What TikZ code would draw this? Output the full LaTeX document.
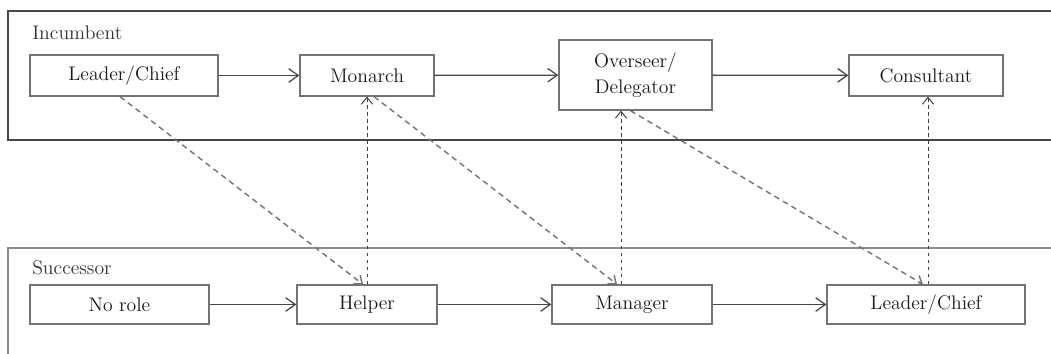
\documentclass[tikz,border=0pt]{standalone}
\usetikzlibrary{arrows.meta,calc}

\begin{document}
\begin{tikzpicture}[
  x=0.025cm, y=-0.025cm,
  font=\fontsize{14}{18.5}\selectfont,
  frame/.style={draw=black!72, line width=1.5pt},
  sframe/.style={draw=black!45, line width=1.2pt},
  role/.style={draw=black!55, line width=0.9pt, inner sep=0pt, align=center, text=black!90, fill=white},
  toprole/.style={role, minimum height=1.025cm},
  botrole/.style={role, minimum height=0.975cm},
  tag/.style={anchor=west, text=black!80, inner sep=0pt},
  arrow/.style={-{Straight Barb[length=2.4mm, width=3.4mm]}, draw=black!72, line width=0.9pt},
  pass/.style={-{Straight Barb[length=1.7mm, width=2.8mm]}, draw=black!55, dash pattern=on 4pt off 3pt, line width=1pt},
  back/.style={-{Straight Barb[length=1.7mm, width=2.8mm]}, draw=black!75, dash pattern=on 2.5pt off 2.5pt, line width=0.7pt}
]
\useasboundingbox (0,0) rectangle (1051,354);

% frames
\draw[frame] (1051,10.7) -- (8,10.7) -- (8,140) -- (1051,140);
\draw[sframe] (1051,248) -- (8,248) -- (8,354);
\node[tag] (inc) at (32,33) {Incumbent};
\node[tag] (suc) at (32,268) {Successor};

% incumbent roles
\node[toprole, minimum width=4.7cm]   (lcA)  at (124,75.5)  {Leader/Chief};
\node[toprole, minimum width=3.35cm]  (mon)  at (367,75.5)  {Monarch};
\node[toprole, minimum width=3.825cm, minimum height=1.75cm] (over) at (635.5,75) {Overseer/\\Delegator};
\node[toprole, minimum width=3.85cm]  (cons) at (926,75.5)  {Consultant};

% successor roles
\node[botrole, minimum width=4.475cm] (none) at (119.5,304.5) {No role};
\node[botrole, minimum width=3.5cm]   (help) at (367,304.5)   {Helper};
\node[botrole, minimum width=4.0cm]   (mgr)  at (632,304.5)   {Manager};
\node[botrole, minimum width=4.95cm]  (lcB)  at (926,304.5)   {Leader/Chief};

\draw[arrow] (lcA) -- (mon);
\draw[arrow] (mon) -- (over);
\draw[arrow] (over) -- (cons);
\draw[arrow] (none) -- (help);
\draw[arrow] (help) -- (mgr);
\draw[arrow] (mgr) -- (lcB);

% handing over
\draw[pass] ($(lcA.south)+(-4,0)$) -- ($(help.north)+(-4,0)$);
\draw[pass] ($(mon.south)+(7,0)$) -- ($(mgr.north)+(-15,0)$);
\draw[pass] ($(over.south)+(-5,0)$) -- ($(lcB.north)+(-3,0)$);

\coordinate (h1) at (help.north);
\coordinate (h2) at ($(mgr.north)+(-11,0)$);
\coordinate (h3) at ($(lcB.north)+(2,0)$);
\draw[back] (h1) -- (h1 |- mon.south);
\draw[back] (h2) -- (h2 |- over.south);
\draw[back] (h3) -- (h3 |- cons.south);
\end{tikzpicture}
\end{document}
